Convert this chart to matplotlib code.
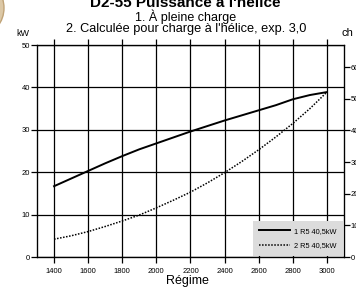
import matplotlib
matplotlib.use('Agg')
import matplotlib.pyplot as plt
from matplotlib.patches import Ellipse

rpm = [1400, 1500, 1600, 1700, 1800, 1900, 2000, 2100, 2200,
       2300, 2400, 2500, 2600, 2700, 2800, 2900, 3000]
pleine_charge = [16.7, 18.5, 20.3, 22.1, 23.8, 25.4, 26.8, 28.2, 29.6,
                 30.9, 32.2, 33.4, 34.6, 35.8, 37.2, 38.2, 38.9]
charge_helice = [4.2, 5.0, 6.0, 7.2, 8.5, 9.9, 11.6, 13.4, 15.3,
                 17.5, 19.9, 22.5, 25.3, 28.3, 31.5, 35.0, 38.9]
x_ticks = [1400, 1600, 1800, 2000, 2200, 2400, 2600, 2800, 3000]
kw_ticks = [0, 10, 20, 30, 40, 50]
ch_ticks = [0, 10, 20, 30, 40, 50, 60]

plt.rcParams['font.family'] = ['Liberation Sans', 'DejaVu Sans']

fig = plt.figure(figsize=(3.56, 2.89), dpi=100)
# bout de logo en haut a gauche
fig.patches.append(Ellipse((-18/356, 1 - 8/289), 44/356, 52/289,
                           transform=fig.transFigure, facecolor='#dcc8a6',
                           edgecolor='#c0a377', lw=1, zorder=0))
ax = fig.add_axes([37/356, 32/289, 307/356, 212/289])

ax.plot(rpm, pleine_charge, color='black', lw=1.4, label='1 R5 40,5kW')
ax.plot(rpm, charge_helice, color='black', lw=1.1, ls=(0, (1, 1)), label='2 R5 40,5kW')

ax.set_xlim(1300, 3100)
ax.set_ylim(0, 50)
ax.set_xticks(x_ticks)
ax.set_yticks(kw_ticks)
ax.grid(True, color='black', lw=0.9)
ax.tick_params(axis='x', direction='out', length=4, width=0.9, labelsize=5.5,
               top=True, pad=4)
ax.tick_params(axis='y', direction='out', length=4, width=0.9, labelsize=5.5, pad=1)
for s in ax.spines.values():
    s.set_linewidth(0.9)

ax2 = ax.twinx()
ax2.set_ylim(0, 67)
ax2.set_yticks(ch_ticks)
ax2.tick_params(axis='y', direction='out', length=4, width=0.9, labelsize=5.5, pad=1)

leg = ax.legend(loc='lower right', fontsize=5.3, frameon=True, fancybox=False,
                borderaxespad=0.15, handlelength=4.2, labelspacing=1.0,
                borderpad=0.9, handletextpad=0.5)
leg.get_frame().set_facecolor('#dcdcdc')
leg.get_frame().set_edgecolor('none')
leg.get_frame().set_alpha(1)
leg.set_zorder(5)

fig.text(185/356, 0.99, "D2-55 Puissance à l'hélice", ha='center', va='center',
         fontsize=11, fontweight='bold')
fig.text(186/356, 0.943, "1. À pleine charge", ha='center', va='center', fontsize=9)
fig.text(186/356, 0.898, "2. Calculée pour charge à l'hélice, exp. 3,0", ha='center',
         va='center', fontsize=9.2)
fig.text(23/356, 0.885, "kW", ha='center', va='center', fontsize=6.5)
fig.text(347/356, 0.885, "ch", ha='center', va='center', fontsize=8)
fig.text(187/356, 8/289, "Régime", ha='center', va='center', fontsize=9)

fig.savefig('out.png', dpi=100)
